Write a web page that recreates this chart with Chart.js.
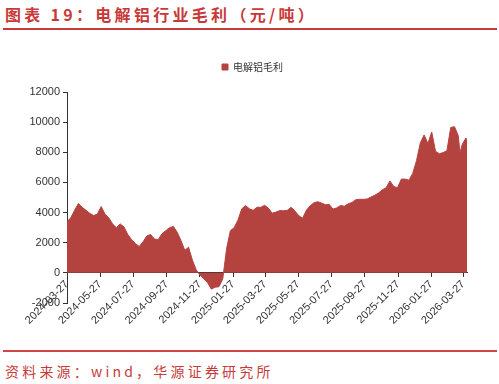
<!DOCTYPE html>
<html><head><meta charset="utf-8">
<script src="https://cdn.jsdelivr.net/npm/chart.js@4.4.1/dist/chart.umd.min.js"></script>
<style>
html,body{margin:0;padding:0;background:#fff;width:499px;height:384px;overflow:hidden;}
#title{position:absolute;left:5px;top:3px;font-weight:bold;font-size:16px;font-family:"Noto Sans CJK SC";color:#c83a3a;letter-spacing:3.3px;line-height:22px;white-space:nowrap;}
#tline{position:absolute;left:3px;top:28px;width:494px;height:2px;background:#c83a3a;}
#wrap{position:absolute;left:0;top:35px;width:499px;height:305px;}
#bline{position:absolute;left:3px;top:350px;width:494px;height:2px;background:#d04545;}
#src{position:absolute;left:5px;top:361px;font-size:14px;font-family:"Noto Sans CJK SC";color:#c83a3a;letter-spacing:3.2px;line-height:20px;white-space:nowrap;}
</style></head>
<body>
<div id="title">图表 19：电解铝行业毛利（元/吨）</div>
<div id="tline"></div>
<div id="wrap"><canvas id="c" width="499" height="305"></canvas></div>
<div id="bline"></div>
<div id="src">资料来源：wind，华源证券研究所</div>
<script>
const seriesName = '电解铝毛利';
const dates = [
'2024-03-27','2024-04-03','2024-04-10','2024-04-17','2024-04-24','2024-05-01','2024-05-08','2024-05-15','2024-05-22','2024-05-29',
'2024-06-05','2024-06-12','2024-06-19','2024-06-26','2024-07-03','2024-07-10','2024-07-17','2024-07-24','2024-07-31','2024-08-07',
'2024-08-14','2024-08-21','2024-08-28','2024-09-04','2024-09-11','2024-09-18','2024-09-25','2024-10-02','2024-10-09','2024-10-16',
'2024-10-23','2024-10-30','2024-11-06','2024-11-13','2024-11-20','2024-11-27','2024-12-04','2024-12-11','2024-12-18','2024-12-25',
'2025-01-01','2025-01-08','2025-01-15','2025-01-22','2025-01-29','2025-02-05','2025-02-12','2025-02-19','2025-02-26','2025-03-05',
'2025-03-12','2025-03-19','2025-03-26','2025-04-02','2025-04-09','2025-04-16','2025-04-23','2025-04-30','2025-05-07','2025-05-14',
'2025-05-21','2025-05-28','2025-06-04','2025-06-11','2025-06-18','2025-06-25','2025-07-02','2025-07-09','2025-07-16','2025-07-23',
'2025-07-30','2025-08-06','2025-08-13','2025-08-20','2025-08-27','2025-09-03','2025-09-10','2025-09-17','2025-09-24','2025-10-01',
'2025-10-08','2025-10-15','2025-10-22','2025-10-29','2025-11-05','2025-11-12','2025-11-19','2025-11-26','2025-12-03','2025-12-10',
'2025-12-17','2025-12-24','2025-12-31','2026-01-07','2026-01-14','2026-01-21','2026-01-28','2026-02-04','2026-02-11','2026-02-18',
'2026-02-25','2026-03-04','2026-03-11','2026-03-18','2026-03-21','2026-03-25','2026-04-01','2026-04-03'
];
const margin = [
3400,3650,4150,4600,4350,4150,3950,3800,3900,4400,
3900,3650,3250,3000,3250,3050,2550,2200,1950,1750,
2050,2450,2550,2250,2200,2600,2800,3000,3080,2700,
2150,1500,1700,850,200,-150,-400,-650,-1080,-950,
-920,-400,1600,2800,3000,3500,4250,4470,4250,4150,
4350,4350,4480,4300,3960,4030,4130,4120,4150,4350,
4100,3800,3620,4150,4450,4650,4720,4630,4520,4550,
4230,4310,4470,4420,4580,4670,4850,4880,4880,4900,
5030,5150,5300,5510,5650,6100,5730,5650,6220,6220,
6150,6600,7450,8620,9150,8580,9350,8070,7900,7980,
8100,9650,9700,9100,7950,8500,8950,8730
];
const tickDates = ['2024-03-27','2024-05-27','2024-07-27','2024-09-27','2024-11-27','2025-01-27','2025-03-27',
'2025-05-27','2025-07-27','2025-09-27','2025-11-27','2026-01-27','2026-03-27'];
const yMin = -2000, yMax = 12000, yStep = 2000;

const DAY = 86400000;
const t0 = Date.parse(dates[0]);
const dayOf = d => Math.round((Date.parse(d) - t0) / DAY);
const points = dates.map((d, i) => ({x: dayOf(d), y: margin[i]}));
const tickPos = tickDates.map(dayOf);
const RED = '#b4433f';
const AX = '#333333';

const legendShift = {
  id: 'legendShift',
  afterLayout(chart) {
    const lg = chart.legend;
    if (lg) { lg.left += 19; lg.right += 19; lg.top -= 10; lg.bottom -= 10; }
  }
};

new Chart(document.getElementById('c'), {
  type: 'line',
  data: { datasets: [{
    label: seriesName, data: points, fill: 'origin',
    backgroundColor: RED, borderColor: RED, borderWidth: 1,
    pointRadius: 0, tension: 0
  }]},
  plugins: [legendShift],
  options: {
    responsive: false, animation: false, devicePixelRatio: 1,
    layout: { padding: { top: 31, right: 32, bottom: 37, left: 0 } },
    plugins: {
      legend: { display: true, position: 'top',
        labels: { boxWidth: 6, boxHeight: 6, padding: 6, color: '#333',
          font: { size: 10, family: '"Noto Sans CJK SC"' } } },
      tooltip: { enabled: false }
    },
    scales: {
      x: { type: 'linear', position: { y: 0 }, z: 1,
        min: 0, max: dayOf(dates[dates.length - 1]),
        afterBuildTicks: ax => { ax.ticks = tickPos.map(v => ({ value: v })); },
        border: { display: true, color: AX, width: 1 },
        grid: { display: true, drawOnChartArea: false, drawTicks: true, tickLength: 4, color: AX },
        ticks: { autoSkip: false, maxRotation: 45, minRotation: 45, padding: 1, color: '#333',
          font: { size: 11, family: '"Liberation Sans"' },
          callback: (v, i) => tickDates[i] }
      },
      y: { position: 'left', z: 1, min: yMin, max: yMax,
        afterFit: s => { s.width = 67; },
        border: { display: true, color: AX, width: 1 },
        grid: { display: true, drawOnChartArea: false, drawTicks: true, tickLength: 4, color: AX },
        ticks: { stepSize: yStep, padding: 3, color: '#333',
          font: { size: 11, family: '"Liberation Sans"' },
          callback: v => String(v) }
      }
    }
  }
});
</script>
</body></html>
